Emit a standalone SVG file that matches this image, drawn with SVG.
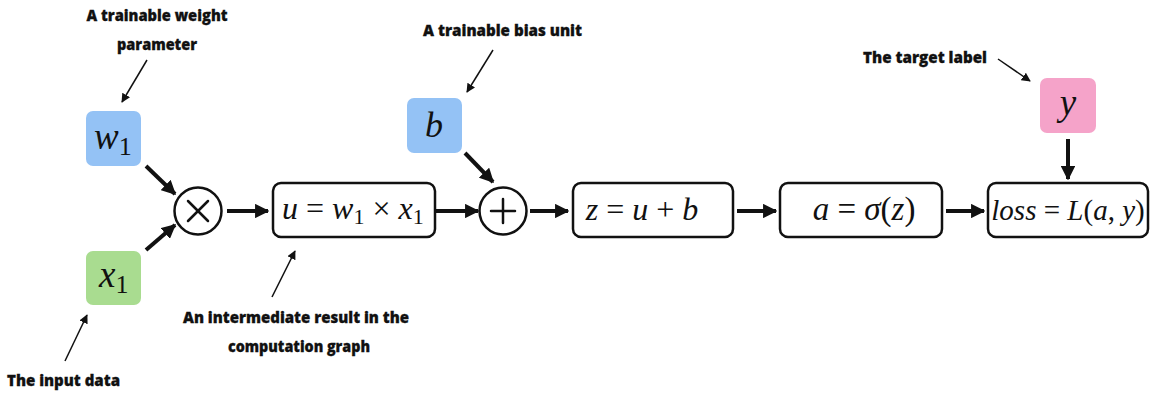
<svg xmlns="http://www.w3.org/2000/svg" width="1156" height="400" viewBox="0 0 1156 400">
<defs>
<style>
.lbl{font-family:"Open Sans","Liberation Sans",sans-serif;font-weight:800;font-size:16px;fill:#111;stroke:#111;stroke-width:0.3}
.m{font-family:"Liberation Serif","Times New Roman",serif;font-style:italic;fill:#111}
.up{font-style:normal}
.box{fill:#fff;stroke:#111;stroke-width:2.5}
.op{fill:#fff;stroke:#111;stroke-width:2.5}
.opl{stroke:#111;stroke-width:2.5;stroke-linecap:round}
.thick{stroke:#111;stroke-width:4;fill:none}
.thin{stroke:#111;stroke-width:1.5;fill:none}
</style>
<marker id="big" viewBox="0 0 10 10" refX="9" refY="5" markerWidth="3.6" markerHeight="3.6" orient="auto" markerUnits="strokeWidth">
<path d="M0,0 L10,5 L0,10 z" fill="#111"/>
</marker>
<marker id="small" viewBox="0 0 10 10" refX="9" refY="5" markerWidth="6" markerHeight="6" orient="auto" markerUnits="strokeWidth">
<path d="M0,0 L10,5 L0,10 z" fill="#111"/>
</marker>
</defs>
<rect width="1156" height="400" fill="#fff"/>

<g id="w1">
<rect x="86" y="111" width="55" height="55" rx="7" fill="#94c2f5"/>
<text class="m" x="94" y="149" font-size="37" fill="#1b2a55">w<tspan class="up" font-size="26" dy="6">1</tspan></text>
</g>
<g id="x1">
<rect x="86" y="251" width="55" height="54" rx="7" fill="#a9dc90"/>
<text class="m" x="99" y="287" font-size="37" fill="#1d2b17">x<tspan class="up" font-size="26" dy="6">1</tspan></text>
</g>
<g id="mul">
<circle class="op" cx="198" cy="211" r="23.5"/>
<line class="opl" x1="188" y1="201" x2="208" y2="221"/>
<line class="opl" x1="208" y1="201" x2="188" y2="221"/>
</g>
<g id="u">
<rect class="box" x="273" y="183" width="162" height="54" rx="8"/>
<text class="m" x="282" y="219" font-size="32">u <tspan class="up">=</tspan> w<tspan class="up" font-size="22" dy="5">1</tspan><tspan class="up" dy="-5"> × </tspan>x<tspan class="up" font-size="22" dy="5">1</tspan></text>
</g>
<g id="b">
<rect x="407" y="98" width="55" height="55" rx="7" fill="#94c2f5"/>
<text class="m" x="434" y="137" font-size="36" text-anchor="middle" fill="#1b2a55">b</text>
</g>
<g id="add">
<circle class="op" cx="503" cy="211" r="23.5"/>
<line class="opl" x1="503" y1="199" x2="503" y2="223"/>
<line class="opl" x1="491" y1="211" x2="515" y2="211"/>
</g>
<g id="z">
<rect class="box" x="573" y="183" width="160" height="54" rx="8"/>
<text class="m" x="642" y="220" font-size="32" text-anchor="middle">z <tspan class="up">=</tspan> u <tspan class="up">+</tspan> b</text>
</g>
<g id="a">
<rect class="box" x="780" y="183" width="162" height="54" rx="8"/>
<text class="m" x="864" y="220" font-size="33" text-anchor="middle">a <tspan class="up">=</tspan> σ<tspan class="up">(</tspan>z<tspan class="up">)</tspan></text>
</g>
<g id="y">
<rect x="1040" y="78" width="56" height="55" rx="7" fill="#f5a3c9"/>
<text class="m" x="1068" y="115" font-size="37" text-anchor="middle" fill="#3a1530">y</text>
</g>
<g id="loss">
<rect class="box" x="988" y="183" width="160" height="54" rx="8"/>
<text class="m" x="1068" y="220" font-size="29" text-anchor="middle">loss <tspan class="up">=</tspan> L<tspan class="up">(</tspan>a<tspan class="up">, </tspan>y<tspan class="up">)</tspan></text>
</g>

<g id="connectors">
<line class="thick" x1="146" y1="166" x2="175" y2="194" marker-end="url(#big)"/>
<line class="thick" x1="146" y1="250" x2="175" y2="225" marker-end="url(#big)"/>
<line class="thick" x1="227" y1="211" x2="268" y2="211" marker-end="url(#big)"/>
<line class="thick" x1="436" y1="211" x2="478" y2="211" marker-end="url(#big)"/>
<line class="thick" x1="465" y1="153" x2="493" y2="182" marker-end="url(#big)"/>
<line class="thick" x1="530" y1="211" x2="568" y2="211" marker-end="url(#big)"/>
<line class="thick" x1="737" y1="211" x2="776" y2="211" marker-end="url(#big)"/>
<line class="thick" x1="946" y1="211" x2="984" y2="211" marker-end="url(#big)"/>
<line class="thick" x1="1068" y1="139" x2="1068" y2="179" marker-end="url(#big)"/>
<line class="thin" x1="147" y1="60" x2="122" y2="102" marker-end="url(#small)"/>
<line class="thin" x1="65" y1="361" x2="87" y2="315" marker-end="url(#small)"/>
<line class="thin" x1="272" y1="297" x2="295" y2="251" marker-end="url(#small)"/>
<line class="thin" x1="493" y1="50" x2="467" y2="92" marker-end="url(#small)"/>
<line class="thin" x1="998" y1="59" x2="1030" y2="81" marker-end="url(#small)"/>
</g>

<g id="labels">
<text class="lbl" x="157" y="21" text-anchor="middle" textLength="141" lengthAdjust="spacingAndGlyphs">A trainable weight</text>
<text class="lbl" x="157" y="50" text-anchor="middle" textLength="80" lengthAdjust="spacingAndGlyphs">parameter</text>
<text class="lbl" x="7" y="386" textLength="113" lengthAdjust="spacingAndGlyphs">The input data</text>
<text class="lbl" x="296" y="323" text-anchor="middle" textLength="226" lengthAdjust="spacingAndGlyphs">An intermediate result in the</text>
<text class="lbl" x="299" y="352" text-anchor="middle" textLength="142" lengthAdjust="spacingAndGlyphs">computation graph</text>
<text class="lbl" x="423" y="36" textLength="159" lengthAdjust="spacingAndGlyphs">A trainable bias unit</text>
<text class="lbl" x="863" y="63" textLength="124" lengthAdjust="spacingAndGlyphs">The target label</text>
</g>
</svg>
